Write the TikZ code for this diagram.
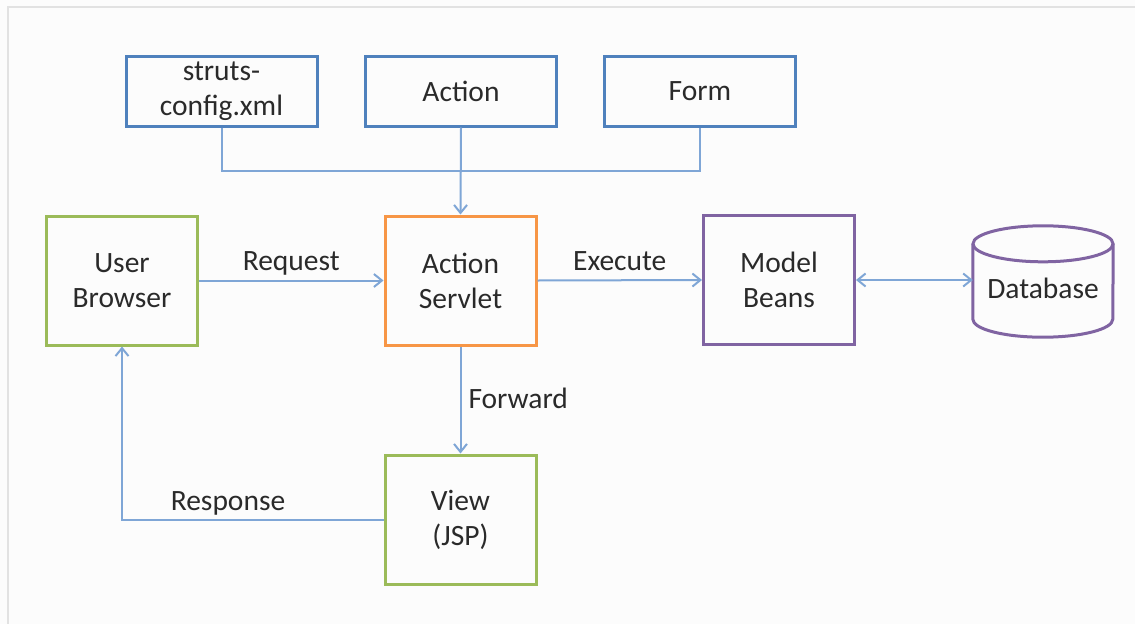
\documentclass[tikz,border=0pt]{standalone}
\usepackage{fontspec}
\setmainfont{Carlito}
\usetikzlibrary{arrows.meta,positioning}
\definecolor{txt}{HTML}{2A2A2A}
\definecolor{bluebox}{HTML}{4F81BD}
\definecolor{greenbox}{HTML}{9BBB59}
\definecolor{orangebox}{HTML}{F79646}
\definecolor{purplebox}{HTML}{8064A2}
\definecolor{link}{HTML}{7FA6D6}
\definecolor{framegray}{HTML}{E2E2E2}
\definecolor{paper}{HTML}{FCFCFC}
\begin{document}
\begin{tikzpicture}[x=1pt,y=-1pt,
  font=\fontsize{29.5}{35}\selectfont, text=txt,
  box/.style={draw, line width=3pt, align=center, inner sep=0pt, text=txt},
  cfg/.style={box, draw=bluebox, minimum width=191pt, minimum height=70pt},
  part/.style={box, minimum width=151pt, minimum height=129pt},
  link/.style={draw=link, line width=2pt},
  barb/.tip={Straight Barb[length=8pt,width=13pt,line width=2pt]},
  tip/.style={link, -barb},
  lbl/.style={inner sep=0pt, text=txt, text depth=0pt}
]
% page and its frame
\fill[paper] (0,0) rectangle (1135,624);
\useasboundingbox (0,0) rectangle (1135,624);
\draw[framegray, line width=2pt] (8,624) -- (8,7) -- (1135,7);

% configuration row
\node[cfg] (cfg)  at (221.5,91) {struts-\\config.xml};
\node[cfg] (act)  at (461,91)   {Action};
\node[cfg] (form) at (700,91)   {Form};

% main row
\node[part, draw=greenbox]  (ub)   at (122,280.5) {User\\Browser};
\node[part, draw=orangebox] (srv)  at (460.5,280.5) {Action\\Servlet};
\node[part, draw=purplebox] (mb)   at (779,280) {Model\\Beans};
\node[part, draw=greenbox]  (view) at (460.5,519.5) {View\\(JSP)};

% database cylinder
\node[inner sep=0pt, minimum width=140pt, minimum height=111pt] (db) at (1043,281.5) {};
\node[inner sep=0pt] (dbtxt) at ([yshift=-7pt]db.center) {Database};
\begin{scope}[draw=purplebox, line width=3pt]
  \draw ([yshift=-18pt]db.north west) -- ([yshift=18pt]db.south west)
        arc[start angle=180, end angle=360, x radius=70pt, y radius=18pt]
        -- ([yshift=-18pt]db.north east);
  \draw ([yshift=-18pt]db.north) ellipse[x radius=70pt, y radius=18pt];
\end{scope}

% configuration feeds the servlet
\coordinate (j1) at (cfg.south |- 0,171);
\coordinate (j2) at (form.south |- 0,171);
\draw[link] (cfg.south) -- (j1) -- (j2) -- (form.south);
\draw[tip] (act.south) -- (srv.north);

% request flow
\draw[tip] (ub.east) -- (srv.west)
  node[lbl, midway, above=9pt] {Request};
\draw[tip] (srv.east) -- (mb.west)
  node[lbl, midway, above=9pt] {Execute};
\draw[link, barb-barb] (mb.east) -- (mb.east -| db.west);
\draw[tip] (srv.south) -- (view.north)
  node[lbl, pos=0.48, right=7pt] {Forward};
\coordinate (rc) at (ub.south |- view.west);
\draw[tip] (view.west) -- (rc) -- (ub.south);
\node[lbl] (resp) at (228,501) {Response};
\end{tikzpicture}
\end{document}
